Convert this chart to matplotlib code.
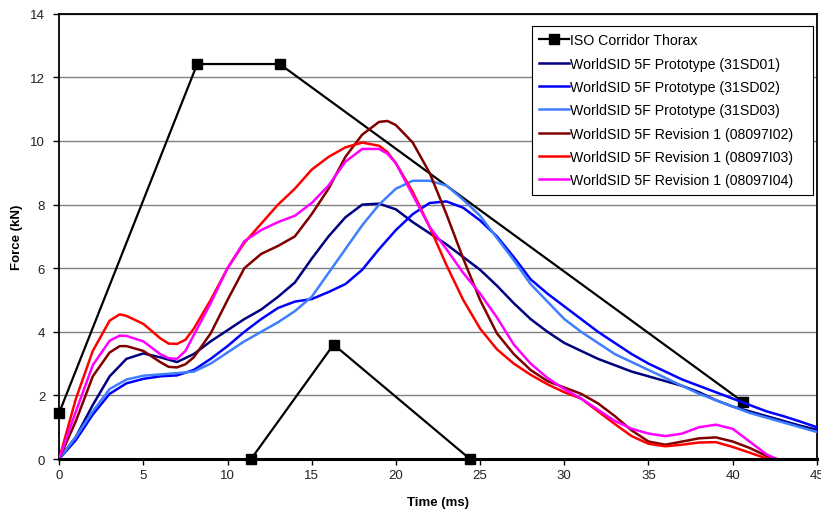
import numpy as np
import matplotlib
matplotlib.use("Agg")
import matplotlib.pyplot as plt

plt.rcParams['font.family'] = ['Liberation Sans', 'DejaVu Sans']

# ISO corridor (upper and lower bounds, drawn as one series)
iso_upper_t = [0.0, 8.2, 13.1, 40.6]
iso_upper_f = [1.45, 12.42, 12.42, 1.8]
iso_lower_t = [11.4, 16.3, 24.4]
iso_lower_f = [0.0, 3.6, 0.0]

t_main = [0, 1, 2, 3, 4, 5, 6, 7, 8, 9, 10, 11, 12, 13, 14, 15, 16, 17, 18, 19, 20,
          21, 22, 23, 24, 25, 26, 27, 28, 29, 30, 31, 32, 33, 34, 35, 36, 37, 38, 39,
          40, 41, 42, 43, 44, 45]

sd01 = [0, 0.7, 1.7, 2.6, 3.15, 3.32, 3.2, 3.05, 3.3, 3.7, 4.05, 4.4, 4.7, 5.1, 5.55,
        6.3, 7.0, 7.6, 8.0, 8.03, 7.85, 7.45, 7.1, 6.75, 6.35, 5.95, 5.45, 4.9, 4.4,
        4.0, 3.65, 3.4, 3.15, 2.95, 2.75, 2.6, 2.45, 2.3, 2.1, 1.85, 1.65, 1.5, 1.35,
        1.2, 1.05, 0.92]
sd02 = [0, 0.6, 1.4, 2.05, 2.38, 2.52, 2.6, 2.63, 2.8, 3.15, 3.55, 4.0, 4.4, 4.75,
        4.95, 5.03, 5.25, 5.5, 5.95, 6.6, 7.2, 7.7, 8.05, 8.1, 7.9, 7.5, 7.0, 6.35,
        5.65, 5.2, 4.8, 4.4, 4.0, 3.65, 3.3, 3.0, 2.75, 2.5, 2.3, 2.1, 1.9, 1.7, 1.5,
        1.35, 1.18, 1.0]
sd03 = [0, 0.7, 1.5, 2.2, 2.5, 2.62, 2.66, 2.7, 2.75, 3.0, 3.35, 3.7, 4.0, 4.3, 4.65,
        5.1, 5.85, 6.6, 7.35, 8.0, 8.5, 8.75, 8.75, 8.6, 8.15, 7.65, 6.95, 6.25, 5.5,
        4.95, 4.4, 4.0, 3.65, 3.3, 3.05, 2.8, 2.55, 2.3, 2.05, 1.85, 1.65, 1.45, 1.3,
        1.15, 1.0, 0.85]

t_rev = [0, 1, 2, 3, 3.6, 4, 5, 6, 6.5, 7, 7.5, 8, 9, 10, 11, 12, 13, 14, 15, 16, 17,
         18, 19, 19.5, 20, 21, 22, 23, 24, 25, 26, 27, 28, 29, 30, 31, 32, 33, 34, 35,
         36, 37, 38, 39, 40, 41, 42, 42.6]

i02 = [0, 1.2, 2.6, 3.35, 3.55, 3.55, 3.4, 3.05, 2.9, 2.88, 2.98, 3.2, 3.95, 5.0,
       6.0, 6.45, 6.7, 7.0, 7.7, 8.5, 9.5, 10.2, 10.6, 10.63, 10.5, 9.95, 9.0, 7.7,
       6.3, 5.0, 3.95, 3.3, 2.8, 2.45, 2.25, 2.05, 1.75, 1.35, 0.9, 0.55, 0.45, 0.55,
       0.65, 0.68, 0.55, 0.35, 0.1, 0.0]
i03 = [0, 1.9, 3.4, 4.35, 4.55, 4.5, 4.25, 3.8, 3.63, 3.62, 3.75, 4.1, 5.0, 6.0,
       6.8, 7.4, 8.0, 8.5, 9.1, 9.5, 9.8, 9.95, 9.85, 9.65, 9.3, 8.4, 7.3, 6.1, 5.0,
       4.1, 3.45, 3.0, 2.65, 2.35, 2.1, 1.9, 1.5, 1.1, 0.72, 0.48, 0.4, 0.45, 0.52,
       0.53, 0.38, 0.2, 0.02, 0.0]
i04 = [0, 1.5, 2.95, 3.72, 3.88, 3.87, 3.7, 3.3, 3.17, 3.15, 3.4, 3.9, 4.9, 6.0,
       6.85, 7.2, 7.45, 7.65, 8.05, 8.6, 9.35, 9.75, 9.75, 9.6, 9.3, 8.3, 7.3, 6.6,
       5.85, 5.2, 4.45, 3.6, 3.0, 2.55, 2.2, 1.9, 1.55, 1.2, 0.95, 0.8, 0.72, 0.8,
       1.0, 1.08, 0.95, 0.55, 0.15, 0.0]

labels = ['WorldSID 5F Prototype (31SD01)', 'WorldSID 5F Prototype (31SD02)',
          'WorldSID 5F Prototype (31SD03)', 'WorldSID 5F Revision 1 (08097I02)',
          'WorldSID 5F Revision 1 (08097I03)', 'WorldSID 5F Revision 1 (08097I04)']
colors = ['#000080', '#0000FF', '#3F7FFF', '#800000', '#FF0000', '#FF00FF']

fig = plt.figure(figsize=(8.21, 5.10), dpi=100)
ax = fig.add_axes([0.072, 0.098, 0.923, 0.873])

ax.yaxis.grid(True, color='#808080', linewidth=1.0)
ax.set_axisbelow(True)

iso_t = iso_upper_t + [np.nan] + iso_lower_t
iso_f = iso_upper_f + [np.nan] + iso_lower_f
ax.plot(iso_t, iso_f, color='black', linewidth=1.6, marker='s', markersize=7,
        label='ISO Corridor Thorax', zorder=3, clip_on=False)

series = [(t_main, sd01), (t_main, sd02), (t_main, sd03),
          (t_rev, i02), (t_rev, i03), (t_rev, i04)]
for (tt, ff), lab, col in zip(series, labels, colors):
    ax.plot(tt, ff, color=col, linewidth=1.8, label=lab, zorder=4)

ax.set_xlim(0, 45)
ax.set_ylim(0, 14)
ax.set_xticks(range(0, 46, 5))
ax.set_yticks(range(0, 15, 2))
ax.tick_params(axis='both', labelsize=9.5, length=4, width=1, direction='out',
               colors='black', labelcolor='#222222')
ax.tick_params(axis='x', pad=3)
ax.tick_params(axis='y', pad=6)

for side in ['top', 'right', 'left']:
    ax.spines[side].set_linewidth(1.3)
ax.spines['bottom'].set_linewidth(2.2)
ax.spines['bottom'].set_zorder(5)

ax.set_xlabel('Time (ms)', fontsize=9.5, fontweight='bold', labelpad=11)
ax.set_ylabel('Force (kN)', fontsize=9.5, fontweight='bold', labelpad=5)

leg = ax.legend(loc='upper left', bbox_to_anchor=(0.624, 0.972, 0.371, 0.0),
                mode='expand', fontsize=10.2,
                frameon=True, fancybox=False, edgecolor='black', framealpha=1,
                borderpad=0.5, labelspacing=0.66, handlelength=2.1,
                handletextpad=0.1, borderaxespad=0)
leg.get_frame().set_linewidth(0.8)

fig.savefig('out.png', dpi=100)
